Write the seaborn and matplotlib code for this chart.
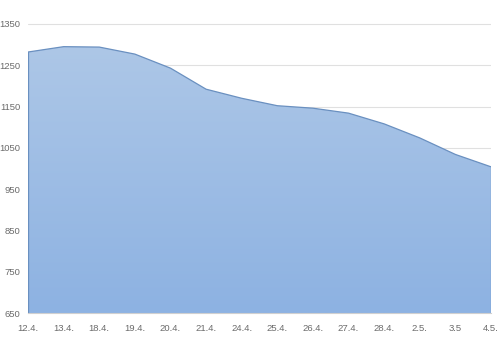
import matplotlib
matplotlib.use("Agg")
import matplotlib.pyplot as plt
import numpy as np
import pandas as pd
import seaborn as sns
from matplotlib.colors import LinearSegmentedColormap

dates = ["12.4.", "13.4.", "18.4.", "19.4.", "20.4.", "21.4.", "24.4.",
         "25.4.", "26.4.", "27.4.", "28.4.", "2.5.", "3.5", "4.5."]
values = [1282, 1295, 1294, 1277, 1243, 1192, 1170,
          1152, 1146, 1134, 1108, 1074, 1034, 1004]
yticks = [650, 750, 850, 950, 1050, 1150, 1250, 1350]

sns.set_style("white")
plt.rcParams['font.family'] = ['Liberation Sans', 'DejaVu Sans']

df = pd.DataFrame({"x": np.arange(len(dates)), "y": values})

fig = plt.figure(figsize=(5, 3.5), dpi=100)
ax = fig.add_axes([0.056, 0.1057, 0.926, 0.8943])
ymin, ymax = 650, 1408
ax.set_ylim(ymin, ymax)
ax.set_xlim(0, len(dates) - 1)

for t in yticks[1:]:
    ax.axhline(t, color="#e0e0e0", lw=0.8, zorder=0)

poly = ax.fill_between(df["x"], df["y"], ymin, color="none", lw=0, zorder=1)
cmap = LinearSegmentedColormap.from_list("g", ["#8db2e2", "#adc7e7"])
grad = np.linspace(0, 1, 256).reshape(-1, 1)
im = ax.imshow(grad, cmap=cmap, aspect="auto", origin="lower",
               extent=[0, len(dates) - 1, ymin, max(values)], zorder=1)
path = poly.get_paths()[0]
im.set_clip_path(path, transform=ax.transData)

sns.lineplot(data=df, x="x", y="y", ax=ax, color="#6a90c0", lw=0.9, zorder=2)
ax.plot([0, 0], [ymin, values[0]], color="#6a90c0", lw=0.9, zorder=2)
ax.plot([len(dates) - 1] * 2, [ymin, values[-1]], color="#6a90c0", lw=0.9, zorder=2)

ax.set_xticks(df["x"])
ax.set_xticklabels(dates)
ax.set_yticks(yticks)
ax.set_yticklabels([str(t) for t in yticks])
ax.tick_params(axis="both", labelsize=6.8, colors="#6b6b6b", length=0)
ax.tick_params(axis="x", pad=8)
ax.tick_params(axis="y", pad=5.5)
ax.set_xlabel("")
ax.set_ylabel("")
for s in ["top", "right", "left"]:
    ax.spines[s].set_visible(False)
ax.spines["bottom"].set_color("#d0d0d0")
ax.spines["bottom"].set_linewidth(0.8)

fig.savefig("out.png", dpi=100)
